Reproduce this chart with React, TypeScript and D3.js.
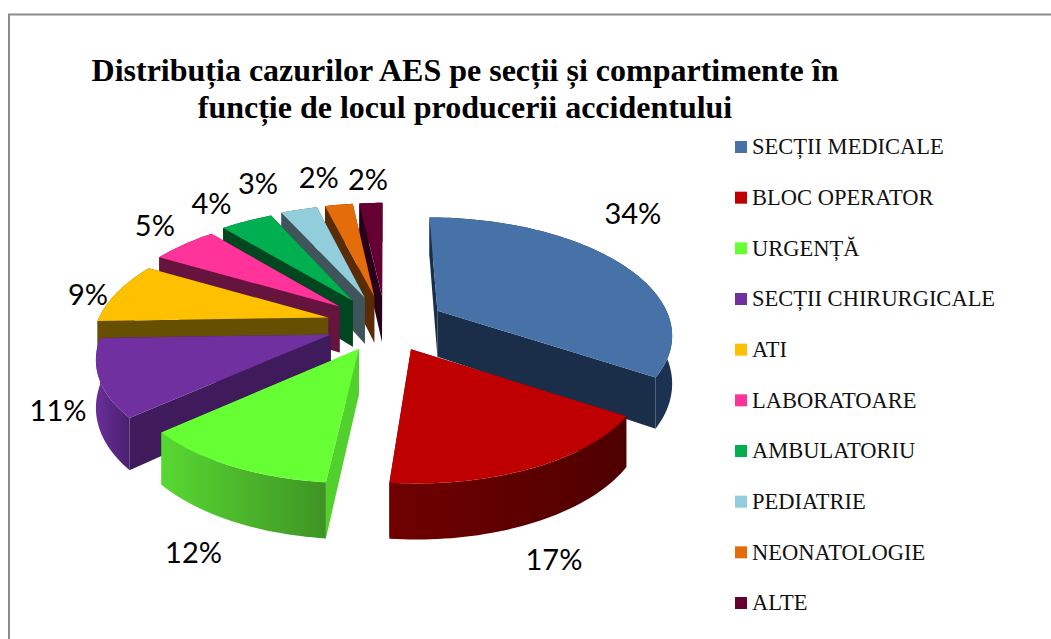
import React from "react";
import * as d3 from "d3";

const categories = ["SECȚII MEDICALE","BLOC OPERATOR","URGENȚĂ","SECȚII CHIRURGICALE","ATI","LABORATOARE","AMBULATORIU","PEDIATRIE","NEONATOLOGIE","ALTE"];
const values = [34.2, 17.3, 11.8, 11.1, 8.6, 5.4, 4.3, 3, 2.3, 1.9];
const topColors = ["#4672a8","#bf0000","#66ff33","#7030a0","#ffc000","#ff3399","#00b050","#92cddc","#e46c0a","#660033"];
const sideColors = ["#1a2e4a","#6b0000","#52d02c","#3f1b5c","#665000","#66143d","#00461f","#3f545b","#5a2b04","#29001a"];
const wallLeft = ["#1a2e4a","#700000","#58d832","#6a2e98","#665000","#66143d","#00461f","#3f545b","#5a2b04","#29001a"];
const wallRight = ["#1c3252","#4e0000","#3f9424","#4a2070","#665000","#66143d","#00461f","#3f545b","#5a2b04","#29001a"];
const labelOffsets: [number, number][] = [[14,-49],[20,92],[-37,87],[-41,32],[-29,2],[-29,-19],[-35,-17],[-41,-26],[-20,-27],[-3,-23]];
const drawOrder = [9,8,7,6,5,4,3,2,0,1];
const titleLines = ["Distribuția cazurilor AES pe secții și compartimente în","funcție de locul producerii accidentului"];

const cx = 385.5, cy = 324, rx = 229, ry = 110, persp = 0.18, depth = 46, exX = 59, exY = 28;

type P = [number, number];
const line = d3.line<P>();

export default function App() {
  const arcs = d3.pie<number>().sort(null).value(d => d)(values);

  const shapes = arcs.map((a, i) => {
    const mid = (a.startAngle + a.endAngle) / 2;
    const ax = cx + exX * Math.sin(mid);
    const ay = cy - exY * Math.cos(mid);
    const proj = (t: number, z = 0): P => {
      const Y = -Math.cos(t);
      const s = 1 / (1 - persp * Y);
      return [ax + rx * Math.sin(t) * s + (ax - cx) * (s - 1), ay + ry * Y * s + z * s];
    };
    const n = Math.max(8, Math.ceil((a.endAngle - a.startAngle) * 40));
    const ts = d3.range(n + 1).map(k => a.startAngle + (a.endAngle - a.startAngle) * k / n);
    const apexT: P = [ax, ay];
    const apexB: P = [ax, ay + depth];
    const topArc = ts.map(t => proj(t));
    const botArc = ts.map(t => proj(t, depth));
    const m = proj(mid);
    return {
      i,
      top: line([apexT, ...topArc])! + "Z",
      outer: line([...topArc, ...botArc.slice().reverse()])! + "Z",
      w1: line([apexT, topArc[0], botArc[0], apexB])! + "Z",
      w2: line([apexT, topArc[n], botArc[n], apexB])! + "Z",
      lx: m[0] + labelOffsets[i][0],
      ly: m[1] + labelOffsets[i][1],
    };
  });

  const legendY = d3.scalePoint<string>().domain(categories).range([147, 603]);

  return (
    <svg width={1051} height={639} style={{ position: "absolute", left: 0, top: 0, background: "#fff" }}>
      <defs>
        {values.map((_, i) => (
          <linearGradient key={i} id={`wall${i}`} x1="0" x2="1" y1="0" y2="0">
            <stop offset="0" stopColor={wallLeft[i]} />
            <stop offset="1" stopColor={wallRight[i]} />
          </linearGradient>
        ))}
      </defs>
      <path d="M9,639 V14.5 H1051" fill="none" stroke="#8c8c8c" strokeWidth={2} />
      <g fontFamily="'Liberation Serif'" fontWeight="bold" fontSize={32} textAnchor="middle" fill="#000">
        {titleLines.map((t, i) => <text key={i} x={465} y={81 + i * 37}>{t}</text>)}
      </g>
      {drawOrder.map(i => {
        const s = shapes[i];
        return (
          <g key={i}>
            <path d={s.w1} fill={sideColors[i]} />
            <path d={s.w2} fill={sideColors[i]} />
            <path d={s.outer} fill={`url(#wall${i})`} />
            <path d={s.top} fill={topColors[i]} />
          </g>
        );
      })}
      <g fontFamily="Lato" fontSize={29} fill="#000" textAnchor="middle">
        {shapes.map(s => (
          <text key={s.i} x={s.lx} y={s.ly} dy="0.35em">{`${Math.round(values[s.i])}%`}</text>
        ))}
      </g>
      <g fontFamily="'Liberation Serif'" fontSize={22.5} fill="#111">
        {categories.map((c, i) => (
          <g key={c}>
            <rect x={735} y={legendY(c)! - 6} width={12} height={12} fill={topColors[i]} />
            <text x={752} y={legendY(c)!} dy="0.33em">{c}</text>
          </g>
        ))}
      </g>
    </svg>
  );
}
